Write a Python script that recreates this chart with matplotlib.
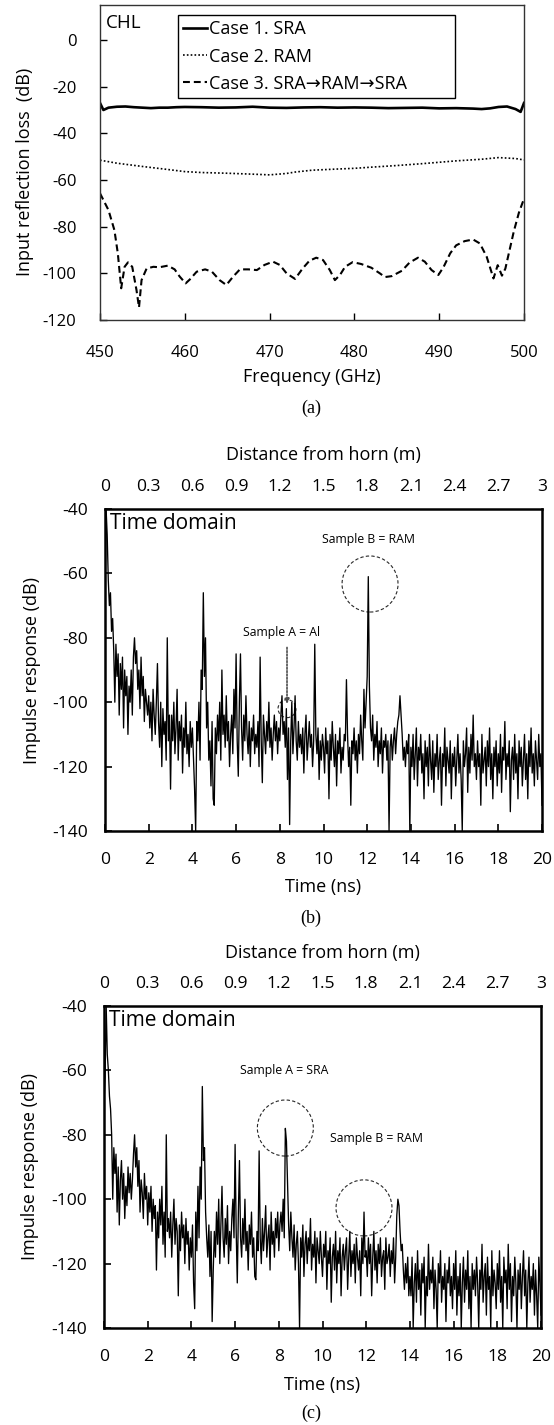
import matplotlib
matplotlib.use('Agg')

import numpy as np
import matplotlib.pyplot as plt
from matplotlib.patches import Ellipse

plt.rcParams['font.family'] = ['Open Sans', 'DejaVu Sans']
plt.rcParams['axes.unicode_minus'] = False

# ---- (a) input reflection loss vs frequency ----
freq_1 = [450, 450.4, 451, 452, 453, 454, 455, 456, 457, 458, 459, 460, 462, 464, 466, 468,
          470, 472, 474, 476, 478, 480, 482, 484, 486, 488, 490, 492, 494, 495, 496, 497,
          498, 499, 499.6, 500]
case_1 = [-27, -30, -29, -28.6, -28.5, -28.8, -29, -29.2, -29, -29, -28.8, -28.7, -28.8, -29,
          -28.9, -28.6, -29, -29.1, -28.9, -28.8, -29, -28.9, -29, -29.2, -29.1, -29, -29.3,
          -29.2, -29.4, -29.6, -29.3, -28.7, -28.5, -29.6, -30.8, -27]

freq_2 = [450, 452, 455, 458, 460, 462, 465, 468, 470, 472, 473, 475, 478, 480, 482, 485,
          488, 490, 492, 495, 497, 499, 500]
case_2 = [-51.5, -52.8, -54.2, -55.5, -56.4, -56.8, -57.1, -57.5, -57.8, -57.2, -56.6, -55.8,
          -55.3, -55, -54.5, -53.8, -53, -52.4, -51.8, -51.1, -50.4, -50.8, -51.4]

freq_3 = [450.0, 451.0, 451.7, 452.1, 452.5, 452.9, 453.3, 453.8, 454.3, 454.6, 454.9, 455.5,
          456.3, 457.0, 458.0, 458.8, 459.4, 460.1, 460.6, 461.4, 462.4, 463.2, 464.1, 464.9,
          465.7, 466.5, 467.5, 468.5, 469.4, 470.4, 471.2, 472.0, 473.0, 473.9, 474.7, 475.5,
          476.3, 477.1, 477.7, 478.3, 478.9, 479.8, 480.8, 482.0, 483.0, 483.6, 484.4, 485.6,
          486.5, 487.5, 488.3, 489.1, 489.9, 490.5, 491.3, 492.0, 493.0, 494.0, 494.8, 495.6,
          496.4, 496.9, 497.4, 497.8, 498.3, 498.8, 499.4, 500.0]
case_3 = [-65.7, -72.9, -81.5, -91.4, -106.4, -97.2, -95.3, -97.2, -107.1, -114.6, -102.9,
          -97.9, -97.2, -97.4, -96.7, -98.3, -101.4, -104.3, -102.6, -99.3, -98.3, -99.3,
          -102.9, -105.0, -101.4, -98.3, -98.3, -98.6, -96.4, -95.0, -96.4, -100.0, -102.4,
          -97.9, -94.6, -93.3, -94.3, -98.6, -102.9, -100.7, -97.2, -95.2, -96.0, -97.6,
          -100.0, -101.6, -101.2, -98.9, -95.4, -93.3, -95.0, -98.6, -100.7, -97.4, -91.4,
          -88.0, -86.2, -85.5, -87.2, -92.9, -102.2, -96.5, -101.0, -98.0, -90.0, -82.0,
          -74.0, -68.0]

# ---- (b), (c) impulse response, sampled every 0.05 ns from 0 to 20 ns ----
time_ns = np.arange(401) * 0.05

impulse_b = [
    -70, -40, -48, -62, -70, -66, -78, -74, -84, -100, -82, -92, -85, -104, -88, -96, -86, -108, -90, -98,
    -92, -110, -95, -100, -90, -104, -86, -80, -88, -84, -96, -90, -102, -86, -98, -92, -106, -96, -100, -104,
    -98, -108, -100, -112, -96, -104, -110, -100, -88, -106, -114, -100, -120, -102, -110, -106, -118, -80, -112, -104,
    -127, -104, -112, -100, -116, -108, -96, -118, -106, -112, -104, -122, -108, -114, -100, -116, -110, -120, -106, -114,
    -108, -118, -127, -140, -106, -112, -100, -118, -90, -96, -66, -92, -80, -108, -100, -118, -112, -126, -106, -130,
    -132, -108, -116, -104, -112, -100, -118, -90, -110, -104, -114, -98, -112, -106, -120, -110, -104, -116, -96, -108,
    -85, -112, -123, -100, -85, -108, -118, -104, -112, -98, -110, -116, -106, -120, -108, -112, -104, -116, -110, -114,
    -106, -120, -86, -112, -125, -104, -110, -116, -106, -112, -100, -114, -108, -118, -110, -104, -112, -106, -116, -108,
    -112, -104, -98, -110, -106, -114, -102, -124, -108, -138, -112, -100, -116, -108, -98, -112, -118, -106, -114, -110,
    -116, -108, -122, -110, -104, -118, -112, -106, -114, -110, -120, -112, -82, -110, -116, -108, -124, -112, -118, -110,
    -114, -122, -108, -116, -112, -130, -110, -118, -106, -114, -120, -110, -126, -112, -116, -108, -122, -114, -118, -110,
    -112, -93, -110, -120, -114, -132, -112, -116, -108, -118, -112, -122, -110, -116, -104, -112, -118, -96, -108, -100,
    -92, -61, -95, -108, -112, -104, -118, -110, -114, -106, -120, -112, -116, -108, -122, -112, -114, -110, -118, -112,
    -140, -114, -110, -118, -112, -108, -116, -110, -106, -104, -98, -104, -110, -118, -114, -120, -112, -116, -110, -140,
    -114, -120, -110, -124, -116, -108, -126, -114, -118, -110, -122, -116, -130, -112, -120, -114, -126, -110, -118, -124,
    -112, -128, -116, -120, -110, -124, -118, -114, -132, -116, -120, -108, -126, -114, -118, -122, -112, -130, -116, -120,
    -114, -126, -118, -110, -122, -116, -124, -140, -112, -120, -116, -108, -128, -114, -122, -110, -118, -104, -120, -116,
    -124, -112, -120, -116, -132, -110, -122, -118, -114, -126, -112, -120, -108, -124, -116, -130, -114, -120, -112, -126,
    -116, -122, -110, -128, -114, -118, -106, -124, -116, -120, -112, -134, -118, -114, -124, -110, -122, -116, -130, -112,
    -120, -114, -126, -118, -110, -124, -116, -130, -112, -120, -108, -122, -116, -126, -112, -118, -124, -110, -120, -116,
    -132]

impulse_c = [
    -70, -62, -40, -55, -60, -68, -72, -80, -100, -84, -92, -86, -104, -90, -108, -94, -88, -100, -92, -106,
    -96, -102, -90, -98, -92, -100, -94, -86, -80, -90, -84, -96, -88, -104, -94, -98, -106, -92, -100, -96,
    -108, -98, -104, -96, -110, -100, -106, -102, -122, -104, -112, -100, -108, -96, -114, -104, -118, -80, -110, -106,
    -112, -104, -118, -108, -100, -114, -106, -110, -130, -108, -116, -104, -112, -108, -120, -106, -114, -110, -122, -112,
    -118, -108, -126, -134, -104, -116, -96, -112, -90, -100, -65, -88, -84, -104, -112, -118, -108, -124, -110, -138,
    -122, -110, -118, -104, -114, -100, -120, -108, -96, -112, -118, -106, -114, -102, -120, -110, -116, -106, -100, -112,
    -83, -110, -126, -104, -88, -112, -118, -106, -114, -100, -116, -110, -122, -108, -114, -104, -118, -112, -124, -125,
    -110, -116, -85, -112, -120, -106, -116, -110, -102, -118, -112, -108, -122, -104, -114, -110, -118, -106, -112, -104,
    -116, -108, -104, -110, -100, -112, -78, -82, -95, -108, -116, -104, -112, -118, -108, -122, -114, -110, -120, -140,
    -112, -118, -108, -124, -114, -110, -120, -112, -116, -106, -122, -114, -118, -110, -126, -112, -116, -120, -110, -118,
    -124, -114, -118, -110, -128, -116, -120, -112, -132, -118, -114, -122, -110, -126, -116, -120, -112, -130, -118, -114,
    -122, -116, -112, -128, -118, -110, -124, -116, -120, -114, -126, -112, -118, -122, -116, -130, -112, -120, -104, -118,
    -116, -124, -112, -120, -114, -130, -118, -110, -122, -116, -126, -114, -120, -112, -124, -118, -116, -128, -112, -120,
    -118, -114, -124, -116, -120, -112, -126, -118, -105, -100, -102, -110, -116, -114, -122, -128, -120, -126, -118, -130,
    -124, -130, -118, -140, -126, -120, -132, -116, -128, -122, -136, -120, -126, -118, -140, -124, -130, -114, -128, -122,
    -126, -118, -134, -122, -128, -140, -120, -126, -116, -132, -124, -128, -120, -138, -122, -126, -118, -130, -124, -134,
    -120, -128, -116, -136, -124, -130, -120, -140, -126, -118, -132, -122, -128, -116, -134, -124, -140, -120, -128, -122,
    -130, -118, -126, -140, -122, -128, -114, -132, -124, -120, -136, -118, -128, -124, -140, -116, -130, -122, -126, -134,
    -120, -128, -116, -132, -124, -140, -118, -126, -122, -134, -114, -128, -120, -138, -124, -130, -118, -126, -140, -122,
    -128, -120, -134, -124, -116, -130, -122, -140, -126, -118, -132, -124, -128, -120, -136, -122, -130, -140, -118, -126,
    -136]

dist_ticks = [0, 0.3, 0.6, 0.9, 1.2, 1.5, 1.8, 2.1, 2.4, 2.7, 3.0]
m_per_ns = 0.15

TICK = 12.6
LAB = 13
W, H = 554, 1425
fig = plt.figure(figsize=(W / 100, H / 100), dpi=100)


def px_axes(left, top, right, bottom):
    return fig.add_axes([left / W, 1 - bottom / H, (right - left) / W, (bottom - top) / H])


def time_panel(ax, values, ylab_x, xlab_y, title_y):
    ax.plot(time_ns, values, color='black', lw=0.95)
    ax.set_xlim(0, 20)
    ax.set_ylim(-140, -40)
    ax.set_xticks(np.arange(0, 21, 2))
    ax.set_yticks(np.arange(-140, -39, 20))
    for s in ax.spines.values():
        s.set_linewidth(1.8)
    ax.tick_params(direction='in', length=5, width=1.2, labelsize=TICK)
    ax.tick_params(axis='x', pad=15)
    ax.tick_params(axis='y', pad=12)
    ax.set_xlabel('Time (ns)', fontsize=LAB, va='center')
    ax.xaxis.set_label_coords(0.5, xlab_y)
    ax.set_ylabel('Impulse response (dB)', fontsize=LAB, va='center')
    ax.yaxis.set_label_coords(ylab_x, 0.5)
    sec = ax.secondary_xaxis('top', functions=(lambda t: t * m_per_ns, lambda d: d / m_per_ns))
    sec.set_xticks(dist_ticks)
    sec.set_xticklabels(['%g' % d for d in dist_ticks])
    sec.tick_params(length=0, labelsize=TICK, pad=10)
    sec.spines['top'].set_visible(False)
    sec.set_xlabel('Distance from horn (m)', fontsize=LAB, va='center')
    sec.xaxis.set_label_coords(0.5, title_y, transform=ax.transAxes)
    ax.text(0.012, 0.955, 'Time domain', transform=ax.transAxes, fontsize=15, va='center')


def ring(ax, x, y, w, h, lw=0.8):
    ax.add_patch(Ellipse((x, y), w, h, fill=False, ls=(0, (3, 2)), lw=lw, color='0.15'))


# ---- panel (a) ----
ax1 = px_axes(100, 5, 524, 320)
ax1.plot(freq_1, case_1, color='black', lw=1.9, label='Case 1. SRA')
ax1.plot(freq_2, case_2, color='black', lw=1.2, ls=(0, (1, 1.3)), label='Case 2. RAM')
ax1.plot(freq_3, case_3, color='black', lw=1.5, ls=(0, (3.3, 1.9)), label='Case 3. SRA\u2192RAM\u2192SRA')
ax1.set_xlim(450, 500)
ax1.set_ylim(-120, 15)
ax1.set_xticks(np.arange(450, 501, 10))
ax1.set_yticks(np.arange(-120, 1, 20))
for s in ax1.spines.values():
    s.set_linewidth(1.0)
    s.set_color('0.2')
ax1.tick_params(direction='in', length=5, width=1.0, labelsize=12)
ax1.tick_params(axis='x', pad=18)
ax1.tick_params(axis='y', pad=17)
ax1.set_xlabel('Frequency (GHz)', fontsize=LAB, va='center')
ax1.xaxis.set_label_coords(0.5, -0.181)
ax1.set_ylabel('Input reflection loss  (dB)', fontsize=LAB, va='center')
ax1.yaxis.set_label_coords(-0.178, 0.47)
ax1.text(0.014, 0.943, 'CHL', transform=ax1.transAxes, fontsize=13.5, va='center')
leg = ax1.legend(loc='upper left', bbox_to_anchor=(0.184, 0.708, 0.653, 0.26), mode='expand',
                 fontsize=13, handlelength=1.3, handletextpad=0.1, labelspacing=0.5,
                 borderaxespad=0, fancybox=False, framealpha=1, borderpad=0.3)
leg.get_frame().set_edgecolor('black')
leg.get_frame().set_linewidth(1.0)

# ---- panel (b) ----
ax2 = px_axes(105, 509, 542, 831)
time_panel(ax2, impulse_b, -0.167, -0.174, 1.168)
ring(ax2, 12.13, -63.3, 2.56, 17.4)
ring(ax2, 8.33, -102.0, 0.82, 5.6)
ax2.text(12.08, -49.6, 'Sample B = RAM', fontsize=8.8, ha='center', va='center')
ax2.text(8.1, -78.5, 'Sample A = Al', fontsize=8.8, ha='center', va='center')
ax2.annotate('', xy=(8.33, -100.5), xytext=(8.33, -83),
             arrowprops=dict(arrowstyle='-|>', ls=(0, (1, 1)), color='0.3', lw=1.2,
                             mutation_scale=7, shrinkA=0, shrinkB=0))

# ---- panel (c) ----
ax3 = px_axes(104, 1006, 541, 1328)
time_panel(ax3, impulse_c, -0.169, -0.177, 1.165)
ring(ax3, 8.3, -77.9, 2.56, 17.4)
ring(ax3, 11.9, -102.7, 2.56, 17.4)
ax3.text(8.24, -59.9, 'Sample A = SRA', fontsize=8.8, ha='center', va='center')
ax3.text(12.45, -81.3, 'Sample B = RAM', fontsize=8.8, ha='center', va='center')

for lab, y in [('(a)', 408), ('(b)', 918), ('(c)', 1413)]:
    fig.text(311 / W, 1 - y / H, lab, family='Liberation Serif', fontsize=13,
             ha='center', va='center')

fig.savefig('out.png', dpi=100)
